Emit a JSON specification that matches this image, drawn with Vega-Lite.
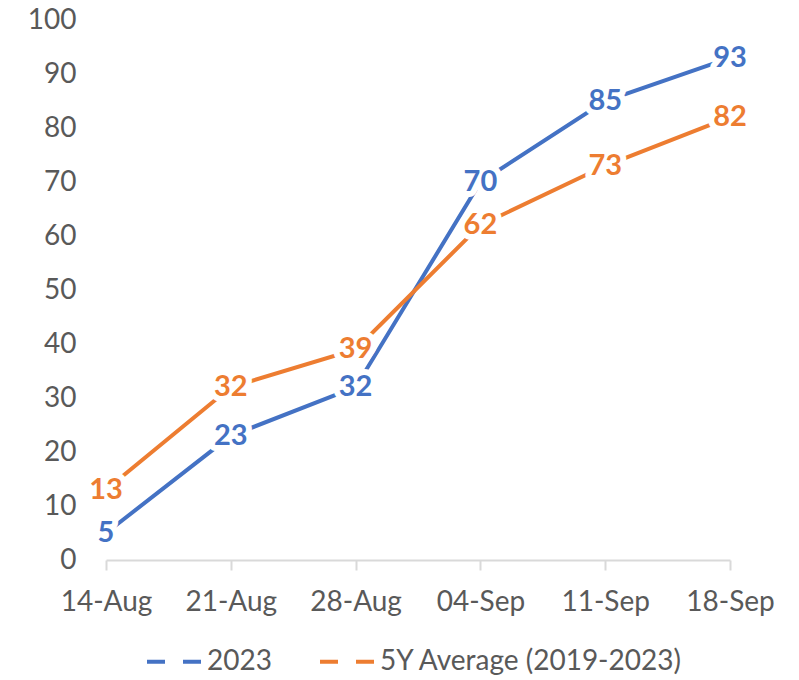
{
  "$schema": "https://vega.github.io/schema/vega-lite/v6.json",
  "width": 624,
  "height": 540,
  "autosize": {"type": "none"},
  "padding": {"left": 106, "top": 20, "right": 69, "bottom": 120},
  "background": "white",
  "config": {
    "view": {"stroke": null},
    "font": "Lato",
    "axis": {"labelFont": "Lato", "labelFontSize": 28, "labelColor": "#595959", "grid": false, "title": null}
  },
  "data": {
    "values": [
      {"date": "14-Aug", "ord": 1, "series": "2023", "value": 5},
      {"date": "21-Aug", "ord": 2, "series": "2023", "value": 23},
      {"date": "28-Aug", "ord": 3, "series": "2023", "value": 32},
      {"date": "04-Sep", "ord": 4, "series": "2023", "value": 70},
      {"date": "11-Sep", "ord": 5, "series": "2023", "value": 85},
      {"date": "18-Sep", "ord": 6, "series": "2023", "value": 93},
      {"date": "14-Aug", "ord": 1, "series": "5Y Average (2019-2023)", "value": 13},
      {"date": "21-Aug", "ord": 2, "series": "5Y Average (2019-2023)", "value": 32},
      {"date": "28-Aug", "ord": 3, "series": "5Y Average (2019-2023)", "value": 39},
      {"date": "04-Sep", "ord": 4, "series": "5Y Average (2019-2023)", "value": 62},
      {"date": "11-Sep", "ord": 5, "series": "5Y Average (2019-2023)", "value": 73},
      {"date": "18-Sep", "ord": 6, "series": "5Y Average (2019-2023)", "value": 82}
    ]
  },
  "encoding": {
    "x": {
      "field": "date", "type": "ordinal",
      "sort": ["14-Aug", "21-Aug", "28-Aug", "04-Sep", "11-Sep", "18-Sep"],
      "scale": {"type": "point", "padding": 0},
      "axis": {"labelAngle": 0, "domainColor": "#D9D9D9", "domainWidth": 2, "tickColor": "#D9D9D9", "tickWidth": 2, "tickSize": 10, "labelPadding": 18}
    },
    "y": {
      "field": "value", "type": "quantitative",
      "scale": {"domain": [0, 100], "nice": false},
      "axis": {"values": [0,10,20,30,40,50,60,70,80,90,100], "domain": false, "ticks": false, "labelPadding": 30}
    },
    "color": {
      "field": "series", "type": "nominal",
      "scale": {"domain": ["2023", "5Y Average (2019-2023)"], "range": ["#4472C4", "#ED7D31"]},
      "legend": {
        "title": null, "orient": "none", "direction": "horizontal",
        "legendX": 39, "legendY": 612,
        "symbolType": "stroke", "symbolStrokeWidth": 4, "symbolSize": 3025, "symbolDash": [18, 18],
        "labelFont": "Lato", "labelFontSize": 28, "labelColor": "#595959", "labelOffset": 3, "labelLimit": 500,
        "columnPadding": 40
      }
    }
  },
  "layer": [
    {"mark": {"type": "line", "strokeWidth": 4}},
    {"mark": {"type": "text", "font": "Lato", "fontWeight": "bold", "fontSize": 29, "stroke": "white", "strokeWidth": 12, "fill": "white", "strokeJoin": "round"}, "encoding": {"text": {"field": "value"}, "color": {"value": "white"}}},
    {"mark": {"type": "text", "font": "Lato", "fontWeight": "bold", "fontSize": 29}, "encoding": {"text": {"field": "value"}}}
  ]
}
